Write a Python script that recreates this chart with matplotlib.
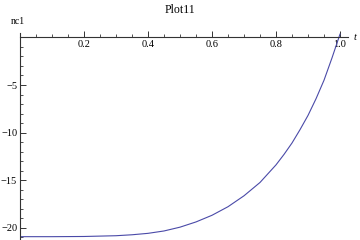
import numpy as np
import matplotlib
matplotlib.use("Agg")
import matplotlib.pyplot as plt
from matplotlib.ticker import MultipleLocator, FixedLocator

# values
t_vals = [0.0, 0.1, 0.2, 0.3, 0.35, 0.4, 0.45, 0.5, 0.55, 0.6, 0.65, 0.7, 0.75,
          0.8, 0.825, 0.85, 0.875, 0.9, 0.925, 0.95, 0.975, 1.0]
nc1_vals = [-20.95, -20.95, -20.93, -20.85, -20.75, -20.6, -20.35, -19.95, -19.4,
            -18.7, -17.8, -16.65, -15.25, -13.4, -12.3, -11.1, -9.7, -8.2, -6.45,
            -4.5, -2.15, 0.35]
x_ticks = [0.2, 0.4, 0.6, 0.8, 1.0]
x_ticklabels = ["0.2", "0.4", "0.6", "0.8", "1.0"]
y_ticks = [-5, -10, -15, -20]
y_ticklabels = ["\u22125", "\u221210", "\u221215", "\u221220"]

plt.rcParams['font.family'] = ['Liberation Serif', 'DejaVu Serif']

fig = plt.figure(figsize=(3.6, 2.4), dpi=100)
ax = fig.add_axes([20/360, 0.0, 328/360, 1 - 32.7/240])

ax.plot(t_vals, nc1_vals, color="#4a4aa8", lw=0.8)
ax.set_xlim(0, 1.025)
ax.set_ylim(-21.3, 0.5)

for s in ['top', 'right']:
    ax.spines[s].set_visible(False)
ax.spines['left'].set_position(('data', 0))
ax.spines['bottom'].set_position(('data', 0))
for s in ['left', 'bottom']:
    ax.spines[s].set_color('#333333')
    ax.spines[s].set_linewidth(0.8)

ax.xaxis.set_major_locator(FixedLocator(x_ticks))
ax.set_xticklabels(x_ticklabels)
ax.xaxis.set_minor_locator(MultipleLocator(0.05))
ax.yaxis.set_major_locator(FixedLocator(y_ticks))
ax.set_yticklabels(y_ticklabels)
ax.yaxis.set_minor_locator(MultipleLocator(1))

ax.tick_params(axis='x', which='major', direction='in', length=4, width=0.7,
               labelsize=7.5, pad=2, color='#333333')
ax.tick_params(axis='x', which='minor', direction='in', length=2, width=0.6, color='#333333')
ax.tick_params(axis='y', which='major', direction='in', length=4, width=0.7,
               labelsize=7.5, pad=2, color='#333333')
ax.tick_params(axis='y', which='minor', direction='in', length=2, width=0.6, color='#333333')

fig.text(0.5, 1 - 10/240, "Plot11", ha='center', va='center', fontsize=8.5)
fig.text(18/360, 1 - 21/240, "nc1", ha='center', va='center', fontsize=7)
fig.text(355/360, 1 - 38/240, "t", ha='center', va='center', fontsize=7.5, style='italic')

fig.savefig("out.png", dpi=100)
